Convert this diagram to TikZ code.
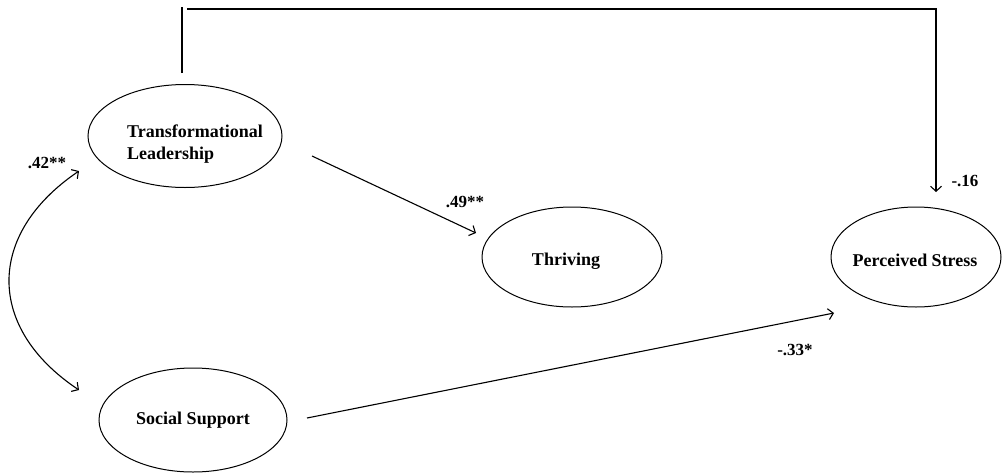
\documentclass[tikz,border=0pt]{standalone}
\usepackage{fontspec}
\setmainfont{Liberation Serif}
\usetikzlibrary{arrows.meta,shapes.geometric}

\begin{document}
\begin{tikzpicture}[x=1pt,y=-1pt,
  latent/.style={ellipse, draw, line width=1pt, inner sep=0pt},
  txt/.style={font=\bfseries\fontsize{18}{22}\selectfont, inner sep=0pt},
  coef/.style={font=\bfseries\fontsize{17}{20}\selectfont, inner sep=0pt},
  link/.style={line width=1.1pt},
  pathto/.style={line width=1.1pt, -{Straight Barb[length=5pt,width=11pt,line width=1.1pt]}},
  pathboth/.style={line width=1.1pt, {Straight Barb[length=5pt,width=11pt,line width=1.1pt]}-{Straight Barb[length=5pt,width=11pt,line width=1.1pt]}}
]
\useasboundingbox (0,0) rectangle (1003,474);

% latent variables
\node[latent, minimum width=194pt, minimum height=103pt] (tl) at (185,136) {};
\node[latent, minimum width=180pt, minimum height=100pt] (thr) at (572,257) {};
\node[latent, minimum width=170pt, minimum height=100pt] (ps) at (916,257) {};
\node[latent, minimum width=188pt, minimum height=104pt] (ss) at (193,420) {};

% their names
\node[txt, align=left, anchor=west] (tltxt) at (127,144) {Transformational\\Leadership};
\node[txt] (thrtxt) at (566,261) {Thriving};
\node[txt] (pstxt) at (915,260) {Perceived Stress};
\node[txt] (sstxt) at (193,420) {Social Support};

% connector end points
\coordinate (tlTop) at (182,73);
\coordinate (topL) at (182,7);
\coordinate (topStart) at (187,9);
\coordinate (topR) at (936,9);
\coordinate (psTop) at (936,192);
\coordinate (tlOut) at (312,156);
\coordinate (thrIn) at (476,233);
\coordinate (ssOut) at (307,418);
\coordinate (psIn) at (834,313);
\coordinate (tlIn) at (79,171);
\coordinate (ssIn) at (79,390);

% direct path Transformational Leadership -> Perceived Stress
\draw[link] (tlTop) -- (topL);
\draw[pathto] (topStart) -- (topR) -- (psTop);

% other paths
\draw[pathto] (tlOut) -- (thrIn);
\draw[pathto] (ssOut) -- (psIn);
\draw[pathboth] (tlIn) .. controls (-14,234) and (-14,328) .. (ssIn);

% coefficients
\node[coef] (c42) at (47,163) {.42**};
\node[coef] (c49) at (465,202) {.49**};
\node[coef] (c16) at (965,181) {-.16};
\node[coef] (c33) at (795,350) {-.33*};
\end{tikzpicture}
\end{document}
